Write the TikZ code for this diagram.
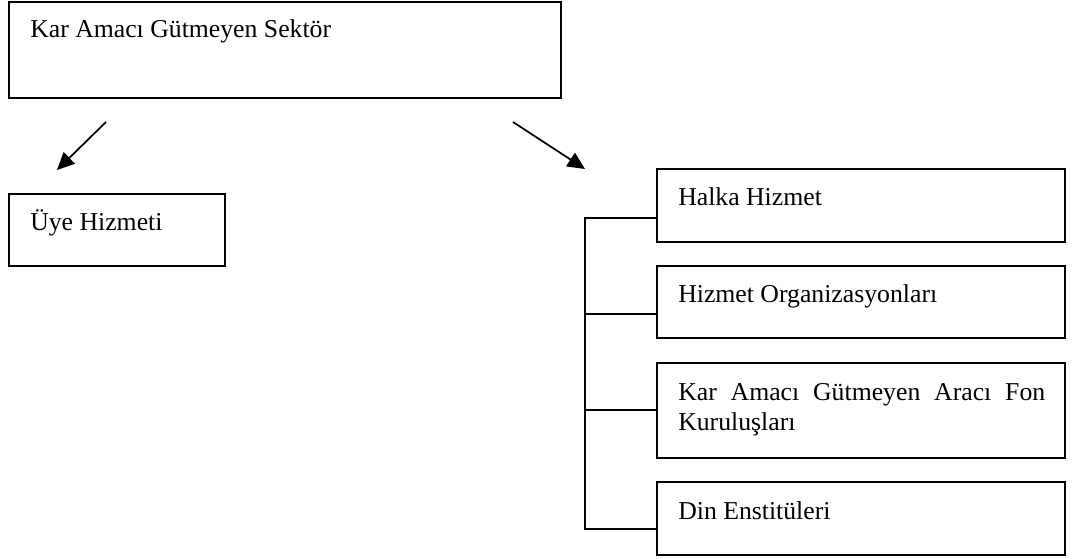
\documentclass[tikz,border=0pt]{standalone}
\usepackage{fontspec}
\setmainfont{Liberation Serif}
\usetikzlibrary{arrows.meta}
\begin{document}
\begin{tikzpicture}[x=0.75pt,y=-0.75pt,
  box/.style={draw, line width=1.3pt, inner sep=0pt, rectangle},
  label/.style={anchor=base west, inner sep=0pt, font=\fontsize{19.3}{22.5}\selectfont},
  link/.style={line width=1.3pt},
  arr/.style={line width=1.3pt, -{Triangle[length=13pt,width=12pt]}}]
\useasboundingbox (0,0) rectangle (1074,559);

% main box and left branch
\node[box, minimum width=414pt, minimum height=72pt] (sector) at (285,50) {};
\node[label] (tsector) at (30,38) {Kar Amacı Gütmeyen Sektör};

\node[box, minimum width=162pt, minimum height=54pt] (uye) at (117,230) {};
\node[label] (tuye) at (30,231) {Üye Hizmeti};

% right branch boxes
\node[box, minimum width=306pt, minimum height=54.75pt] (halka) at (861,205.5) {};
\node[label] (thalka) at (678,206) {Halka Hizmet};

\node[box, minimum width=306pt, minimum height=54pt] (hizmet) at (861,302) {};
\node[label] (thizmet) at (678,303) {Hizmet Organizasyonları};

\node[box, minimum width=306pt, minimum height=71.25pt] (fon) at (861,410.5) {};
\node[label] (tfon) at (678,400) {\parbox[t]{275.25pt}{Kar Amacı Gütmeyen Aracı Fon\linebreak Kuruluşları}};

\node[box, minimum width=306pt, minimum height=54.75pt] (din) at (861,518.5) {};
\node[label] (tdin) at (678,519) {Din Enstitüleri};

% arrows
\coordinate (la) at (106,122);
\coordinate (lb) at (57,170);
\coordinate (ra) at (513,122);
\coordinate (rb) at (585,169);
\draw[arr] (la) -- (lb);
\draw[arr] (ra) -- (rb);

% bracket joining the right boxes
\coordinate (s1) at (585,218);
\coordinate (s2) at (585,314);
\coordinate (s3) at (585,410);
\coordinate (s4) at (585,529);
\draw[link] (halka.west |- s1) -- (s1) -- (s4) -- (din.west |- s4);
\draw[link] (s2) -- (hizmet.west |- s2);
\draw[link] (s3) -- (fon.west |- s3);
\end{tikzpicture}
\end{document}
